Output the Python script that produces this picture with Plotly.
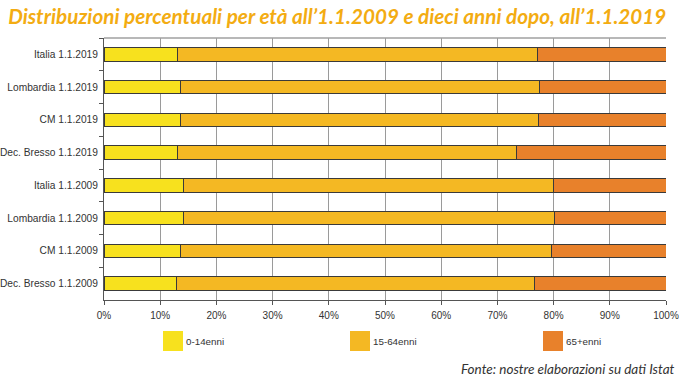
import plotly.graph_objects as go

categories = ["Italia 1.1.2019", "Lombardia 1.1.2019", "CM 1.1.2019", "Dec. Bresso 1.1.2019",
              "Italia 1.1.2009", "Lombardia 1.1.2009", "CM 1.1.2009", "Dec. Bresso 1.1.2009"]
age_0_14 = [13.0, 13.6, 13.6, 13.0, 14.1, 14.1, 13.6, 12.9]
age_15_64 = [64.2, 63.9, 63.8, 60.4, 65.8, 66.0, 66.0, 63.7]
age_65p = [22.8, 22.5, 22.6, 26.6, 20.1, 19.9, 20.4, 23.4]
series_names = ["0-14enni", "15-64enni", "65+enni"]
colors = ["#F7E11E", "#F4B823", "#E8812B"]
x_ticks = [0, 10, 20, 30, 40, 50, 60, 70, 80, 90, 100]

L, R, T, B = 104, 14, 38, 82
W, H = 680, 382
PW, PH = W - L - R, H - T - B


def px(x):
    return (x - L) / PW


def py(y):
    return (H - B - y) / PH


fig = go.Figure()
for name, vals, col in zip(series_names, [age_0_14, age_15_64, age_65p], colors):
    fig.add_trace(go.Bar(
        y=categories, x=vals, name=name, orientation="h",
        marker=dict(color=col, line=dict(color="#3a3a3a", width=1)),
        width=0.41, showlegend=False,
    ))

fig.update_layout(
    barmode="stack",
    width=W, height=H, autosize=False,
    margin=dict(l=L, r=R, t=T, b=B, autoexpand=False),
    paper_bgcolor="white", plot_bgcolor="white",
    font=dict(family="Arial", color="#333333", size=10.5),
    title=dict(
        text="<i><b>Distribuzioni percentuali per età all’1.1.2009 e dieci anni dopo, all’1.1.2019</b></i>",
        x=0.012, xanchor="left", y=0.955, yanchor="middle",
        font=dict(family="Lato", size=20.7, color="#F3AC12"),
    ),
)
fig.update_xaxes(
    range=[0, 100], tickvals=x_ticks, ticktext=[f"{v}%" for v in x_ticks],
    showgrid=True, gridcolor="#9a9a9a", gridwidth=1,
    showline=True, linecolor="#555555", linewidth=1,
    ticks="outside", ticklen=4, tickcolor="#555555",
    tickfont=dict(family="Arial", size=10, color="#333333"), zeroline=False,
    ticklabelstandoff=2,
    automargin=False,
)
fig.update_yaxes(
    categoryorder="array", categoryarray=categories, autorange="reversed",
    showgrid=False, showline=True, linecolor="#555555", linewidth=1,
    ticks="outside", ticklen=4, tickcolor="#555555", tickson="boundaries",
    tickfont=dict(family="Arial", size=10.2, color="#333333"),
    ticklabelstandoff=3,
    automargin=False,
)
# top border of plot area
fig.add_shape(type="line", xref="paper", yref="paper", x0=0, x1=1, y0=1, y1=1,
              line=dict(color="#a0a0a0", width=1.5))

# manual legend
leg_x = [163, 350, 543]
for lx, name, col in zip(leg_x, series_names, colors):
    fig.add_shape(type="rect", xref="paper", yref="paper",
                  x0=px(lx), x1=px(lx + 20), y0=py(351), y1=py(331),
                  fillcolor=col, line=dict(width=0))
    fig.add_annotation(xref="paper", yref="paper", x=px(lx + 21), y=py(341),
                       text=name, showarrow=False, xanchor="left", yanchor="middle",
                       font=dict(family="Arial", size=9.8, color="#333333"))

fig.add_annotation(xref="paper", yref="paper", x=px(677), y=py(369),
                   text="<i>Fonte: nostre elaborazioni su dati Istat</i>", showarrow=False,
                   xanchor="right", yanchor="middle",
                   font=dict(family="Lato", size=13.5, color="#333333"))

fig.write_html("out.html", config={"displayModeBar": False},
               post_script="document.body.style.margin='0px';")
